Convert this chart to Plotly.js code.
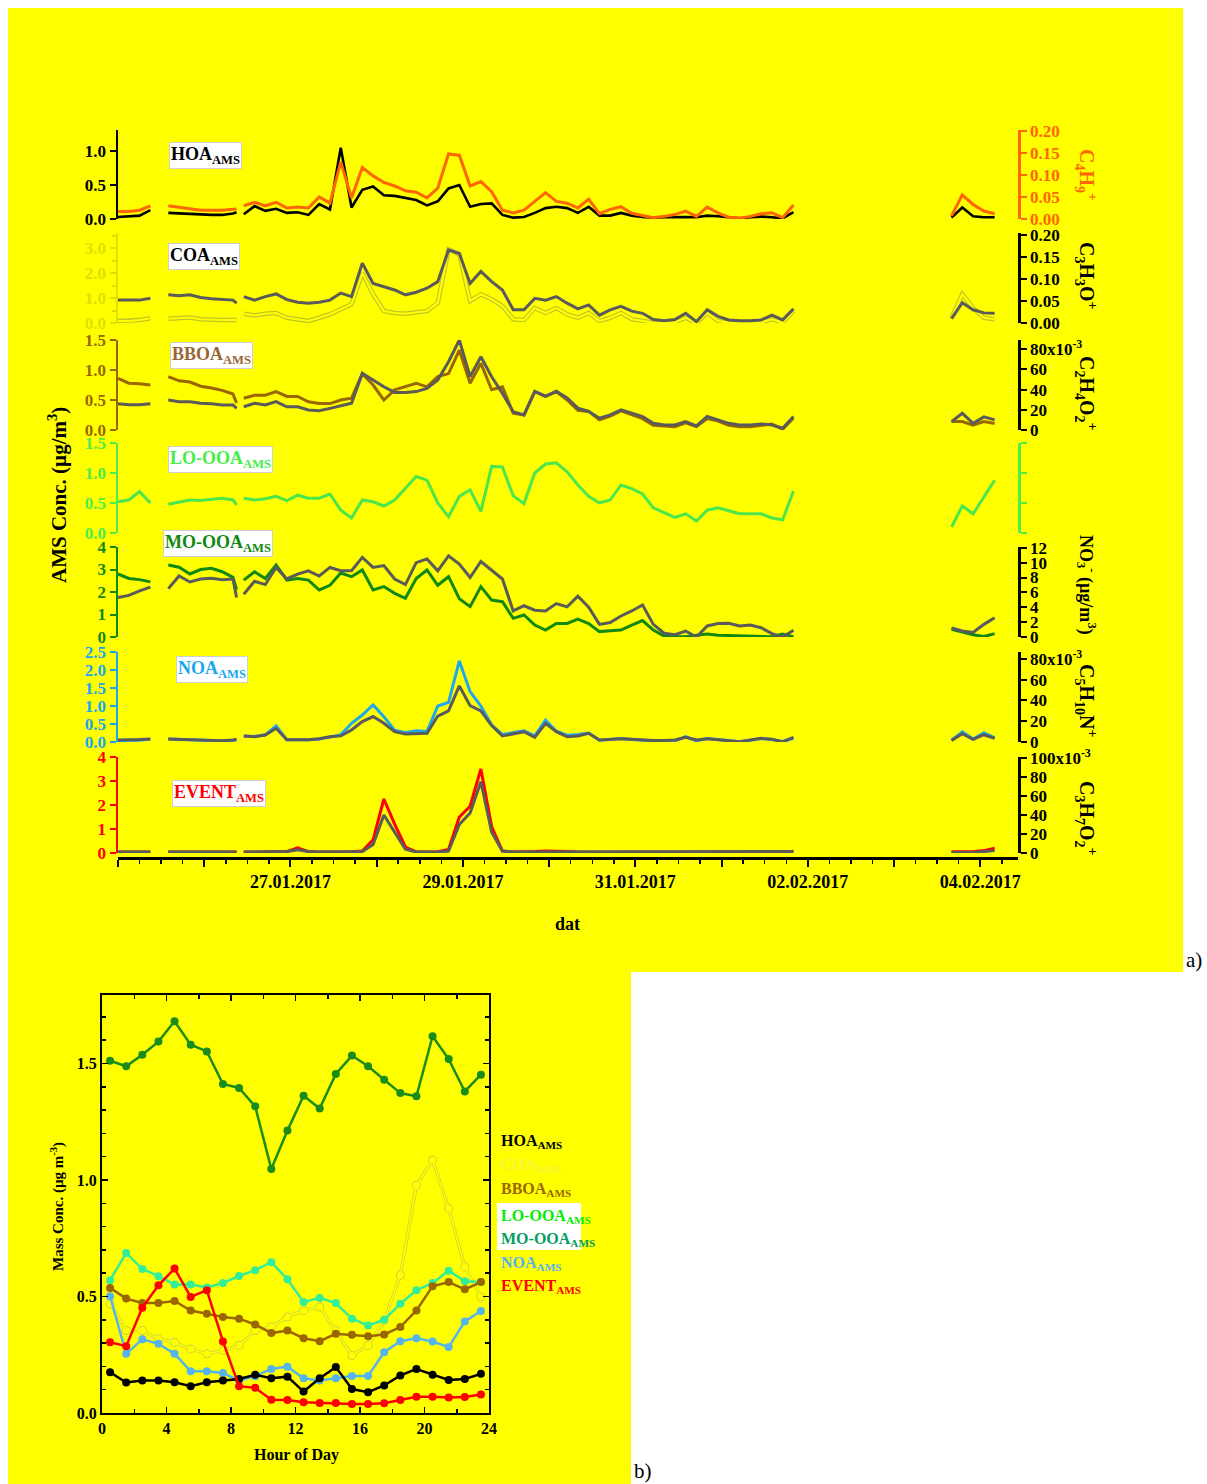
<!DOCTYPE html>
<html>
<head>
<meta charset="utf-8">
<script src="https://cdn.plot.ly/plotly-3.0.1.min.js"></script>
<style>html,body{margin:0;padding:0;background:#fff;}#chart{width:1207px;height:1484px;}</style>
</head>
<body>
<div id="chart"></div>
<script>
// ---------- Panel a) time series: hours since 25.01.2017 00:00 (null rows = data gaps) ----------
const startDate = '2017-01-25T00:00:00Z';
const hours = [0,3,6,9, 11, 14,17,20,23,26,29,32,33, 34,
  35,38,41,44,47,50,53,56,59,62,65,68,71,74,77,80,83,86,89,92,95,98,101,104,107,110,113,116,119,122,125,128,131,134,137,140,143,146,149,152,155,158,161,164,167,170,173,176,179,182,185,188,
  210, 232,235,238,241,244];

const hoa = [0.03,0.04,0.05,0.13, null, 0.09,0.08,0.07,0.06,0.06,0.06,0.08,0.10, null,
  0.07,0.19,0.12,0.15,0.09,0.10,0.06,0.22,0.14,1.05,0.17,0.43,0.48,0.35,0.34,0.31,0.28,0.20,0.26,0.45,0.50,0.18,0.22,0.23,0.06,0.02,0.03,0.09,0.16,0.18,0.16,0.09,0.18,0.05,0.05,0.09,0.05,0.03,0.02,0.025,0.03,0.03,0.025,0.05,0.04,0.02,0.01,0.025,0.035,0.025,0.01,0.10,
  null, 0.02,0.17,0.04,0.025,0.025];
const c4h9 = [0.017,0.017,0.02,0.03, null, 0.030,0.027,0.024,0.020,0.020,0.020,0.022,0.023, null,
  0.030,0.038,0.030,0.038,0.025,0.027,0.025,0.050,0.036,0.130,0.048,0.117,0.098,0.083,0.075,0.064,0.061,0.048,0.070,0.148,0.145,0.075,0.085,0.062,0.020,0.014,0.020,0.040,0.060,0.040,0.036,0.025,0.045,0.012,0.022,0.028,0.013,0.008,0.003,0.006,0.010,0.018,0.006,0.027,0.014,0.004,0.002,0.006,0.012,0.014,0.003,0.032,
  null, 0.007,0.055,0.033,0.018,0.012];
const coa = [0.08,0.08,0.12,0.19, null, 0.17,0.20,0.22,0.15,0.12,0.12,0.13,0.12, null,
  0.37,0.30,0.37,0.40,0.21,0.15,0.08,0.21,0.35,0.55,0.75,2.0,1.15,0.48,0.40,0.37,0.44,0.48,0.80,2.95,2.75,0.88,1.15,0.95,0.68,0.15,0.12,0.60,0.40,0.60,0.35,0.21,0.40,0.08,0.21,0.40,0.15,0.08,0.02,0.0,0.03,0.21,0.0,0.40,0.08,0.02,0.0,0.0,0.03,0.15,0.02,0.48,
  null, 0.20,1.15,0.60,0.21,0.15];
const c3h3o = [0.052,0.052,0.052,0.056, null, 0.064,0.062,0.064,0.058,0.055,0.054,0.052,0.045, null,
  0.060,0.052,0.060,0.066,0.053,0.047,0.045,0.047,0.052,0.068,0.060,0.136,0.090,0.083,0.075,0.064,0.070,0.079,0.094,0.166,0.158,0.090,0.117,0.094,0.075,0.030,0.030,0.056,0.052,0.060,0.045,0.032,0.041,0.018,0.030,0.038,0.027,0.022,0.008,0.005,0.008,0.022,0.003,0.030,0.015,0.007,0.005,0.005,0.007,0.018,0.007,0.032,
  null, 0.010,0.046,0.030,0.023,0.022];
const bboa = [0.86,0.78,0.77,0.75, null, 0.89,0.82,0.80,0.73,0.70,0.66,0.60,0.45, null,
  0.53,0.58,0.58,0.64,0.56,0.56,0.47,0.44,0.44,0.50,0.53,0.94,0.75,0.50,0.67,0.72,0.78,0.72,0.89,0.94,1.33,0.78,1.11,0.67,0.72,0.28,0.25,0.64,0.56,0.64,0.50,0.33,0.31,0.17,0.23,0.32,0.25,0.19,0.08,0.07,0.056,0.12,0.056,0.19,0.15,0.08,0.056,0.056,0.08,0.10,0.011,0.20,
  null, 0.14,0.14,0.08,0.14,0.11];
const c2h4o2_milli = [26,25,25,26, null, 29.6,28,28,26.4,26,24.7,24.7,21.4, null,
  23,26.4,24.7,28,23,23,19.8,19,21.4,23.7,26.4,56,49.4,42.8,37.2,37.2,38,41.2,49.4,67.5,89,52.7,72.4,52.7,36.2,18.1,14.8,38.3,33.3,38.3,31.7,21.7,18.3,11.7,15,20,16.7,13.3,6.6,4.9,4.9,8.3,4,13.3,10,6.6,4.9,4.9,6,4.9,1.7,13.3,
  null, 8.3,16.5,6.6,13,10];
const looa = [0.52,0.55,0.69,0.50, null, 0.48,0.52,0.55,0.54,0.56,0.58,0.55,0.47, null,
  0.58,0.55,0.57,0.61,0.54,0.63,0.58,0.58,0.65,0.38,0.25,0.55,0.52,0.45,0.55,0.75,0.94,0.88,0.50,0.27,0.61,0.72,0.36,1.11,1.10,0.62,0.49,1.00,1.15,1.17,1.02,0.80,0.61,0.50,0.55,0.80,0.74,0.65,0.42,0.34,0.26,0.32,0.20,0.38,0.42,0.37,0.32,0.32,0.32,0.25,0.22,0.70,
  null, 0.10,0.45,0.32,0.60,0.88];
const mooa = [2.8,2.6,2.55,2.45, null, 3.2,3.1,2.8,3.0,3.05,2.9,2.65,2.1, null,
  2.53,2.9,2.6,3.2,2.53,2.6,2.53,2.09,2.3,2.84,2.68,2.98,2.09,2.24,1.94,1.72,2.6,2.98,2.3,2.68,1.7,1.35,2.24,1.64,1.57,0.83,0.98,0.53,0.31,0.60,0.60,0.79,0.60,0.24,0.28,0.31,0.53,0.73,0.31,0.04,0.01,0.01,0.08,0.13,0.08,0.06,0.04,0.04,0.01,0.01,0.13,0.01,
  null, 0.34,0.22,0.10,0.02,0.15];
const no3 = [5.3,5.6,6.2,6.7, null, 6.5,8.2,7.4,7.8,7.9,7.7,7.8,5.3, null,
  5.75,7.5,7.05,9.35,7.8,8.45,8.9,8.2,9.35,8.9,8.9,10.7,9.35,9.6,7.8,7.05,10.0,10.5,8.9,10.9,9.8,8.0,10.15,9.0,7.8,3.5,4.2,3.6,3.5,4.5,4.05,5.5,4.0,1.7,1.94,2.83,3.5,4.3,1.7,0.5,0.3,0.8,0.0,1.48,1.8,1.84,1.48,1.6,1.25,0.45,0.0,0.9,
  null, 1.2,0.8,0.6,1.7,2.6];
const noa = [0.04,0.04,0.05,0.08, null, 0.08,0.07,0.05,0.03,0.02,0.03,0.05,0.06, null,
  0.17,0.15,0.20,0.45,0.06,0.05,0.06,0.08,0.15,0.20,0.52,0.75,1.03,0.70,0.33,0.26,0.31,0.29,1.0,1.1,2.25,1.4,1.0,0.47,0.21,0.25,0.31,0.17,0.61,0.30,0.19,0.21,0.25,0.05,0.07,0.10,0.07,0.05,0.01,0.01,0.03,0.15,0.03,0.10,0.07,0.04,0.01,0.05,0.10,0.07,0.01,0.10,
  null, 0.05,0.28,0.08,0.25,0.12];
const c5h10n_milli = [2,2,2.5,3, null, 2.8,2.5,1.8,1.2,1.0,1.3,2.0,2.5, null,
  5.9,5.1,6.7,13.2,2.2,1.9,2.2,3.2,5.1,5.9,11.6,19.7,24.5,18.1,10,7.7,8.4,8.4,25,30,54,35,30,16,5.8,7.7,9.9,4.5,18,9.9,5.1,5.8,8.4,1.9,2.6,3.2,2.6,1.9,1.5,1.5,1.9,4.5,1.9,3.2,2.6,1.3,0.3,1.9,3.5,2.6,0.3,4.5,
  null, 1.5,8,2.5,7,3.5];
const eventAms = [0.04,0.04,0.04,0.04, null, 0.04,0.04,0.04,0.04,0.04,0.04,0.04,0.04, null,
  0.04,0.04,0.04,0.04,0.06,0.22,0.06,0.04,0.04,0.04,0.05,0.08,0.55,2.25,1.2,0.25,0.05,0.04,0.05,0.15,1.5,1.95,3.5,1.1,0.08,0.04,0.04,0.06,0.08,0.08,0.06,0.04,0.04,0.03,0.03,0.03,0.03,0.03,0.03,0.03,0.03,0.03,0.03,0.03,0.03,0.03,0.03,0.03,0.04,0.04,0.03,0.07,
  null, 0.05,0.05,0.05,0.10,0.20];
const c3h7o2_milli = [1,1,1,1, null, 1,1,1,1,1,1,1,1, null,
  1,1,1,1,1.5,3.5,1.5,1,1,1,1,1.5,9,40,22,4,1,1,1,2,30,42,75,22,2,1,1,1,1,1,1,1,1,0.8,0.8,0.8,0.8,0.8,0.8,0.8,0.8,0.8,0.8,0.8,0.8,0.8,0.8,0.8,0.8,0.8,0.8,1.5,
  null, 0.5,0.5,0.5,1.5,2.5];

const dayTicks = ['2017-01-25','2017-01-26','2017-01-27','2017-01-28','2017-01-29','2017-01-30','2017-01-31','2017-02-01','2017-02-02','2017-02-03','2017-02-04'];
const dayLabels = ['','','27.01.2017','','29.01.2017','','31.01.2017','','02.02.2017','','04.02.2017'];

// ---------- Panel b) diurnal cycles ----------
const hourOfDay = [0.5,1.5,2.5,3.5,4.5,5.5,6.5,7.5,8.5,9.5,10.5,11.5,12.5,13.5,14.5,15.5,16.5,17.5,18.5,19.5,20.5,21.5,22.5,23.5];
const hoaDiurnal = [0.175,0.131,0.139,0.139,0.132,0.115,0.132,0.139,0.146,0.164,0.149,0.156,0.092,0.149,0.197,0.103,0.089,0.118,0.161,0.189,0.164,0.142,0.146,0.168];
const coaDiurnal = [0.469,0.354,0.354,0.318,0.304,0.275,0.254,0.268,0.290,0.354,0.369,0.412,0.440,0.455,0.354,0.247,0.290,0.397,0.591,0.978,1.086,0.878,0.627,0.498];
const bboaDiurnal = [0.537,0.491,0.472,0.472,0.481,0.440,0.426,0.412,0.405,0.380,0.343,0.354,0.321,0.308,0.340,0.336,0.329,0.337,0.369,0.440,0.544,0.562,0.531,0.562];
const looaDiurnal = [0.570,0.687,0.618,0.587,0.551,0.551,0.539,0.558,0.588,0.613,0.647,0.574,0.476,0.494,0.472,0.405,0.376,0.400,0.469,0.527,0.558,0.611,0.565,0.562];
const mooaDiurnal = [1.512,1.488,1.538,1.594,1.681,1.581,1.552,1.412,1.395,1.316,1.047,1.212,1.362,1.307,1.455,1.534,1.488,1.430,1.373,1.359,1.617,1.519,1.380,1.452];
const noaDiurnal = [0.501,0.254,0.316,0.297,0.254,0.179,0.179,0.172,0.139,0.158,0.189,0.199,0.149,0.139,0.149,0.159,0.159,0.261,0.308,0.321,0.307,0.283,0.393,0.438];
const eventDiurnal = [0.304,0.287,0.452,0.548,0.620,0.498,0.527,0.307,0.115,0.108,0.057,0.056,0.046,0.043,0.043,0.039,0.039,0.042,0.056,0.070,0.070,0.067,0.069,0.079];

// ---------- checks ----------
[hoa,c4h9,coa,c3h3o,bboa,c2h4o2_milli,looa,mooa,no3,noa,c5h10n_milli,eventAms,c3h7o2_milli].forEach((a,i)=>{
  if (a.length !== hours.length) throw new Error('series '+i+' length '+a.length+' != '+hours.length);
});

// ---------- build ----------
const t0 = Date.parse(startDate);
const times = hours.map(h => new Date(t0 + h*3600000).toISOString().slice(0,16).replace('T',' '));

const F = 'Liberation Serif, Times New Roman, serif';
const W = 1207, H = 1484;
const px = v => v / W;
const py = v => 1 - v / H;
const dom = (top, bottom) => [1 - bottom / H, 1 - top / H];

const GRAY = '#5a5a5a';
function line(y, axis, color, width) {
  return {x: times, y: y, yaxis: axis, type: 'scatter', mode: 'lines', connectgaps: false,
          line: {color: color, width: width}, hoverinfo: 'skip', showlegend: false};
}

const data = [
  line(hoa, 'y', '#000000', 2.6),
  line(c4h9, 'y2', '#ff6600', 3),
  line(coa, 'y3', '#c4c42a', 4.6),
  line(coa, 'y3', '#ffff00', 2.2),
  line(c3h3o, 'y4', GRAY, 3),
  line(bboa, 'y5', '#996600', 3),
  line(c2h4o2_milli, 'y6', GRAY, 3),
  line(looa, 'y7', '#4ce64c', 3),
  {x:[null], y:[null], yaxis:'y8', type:'scatter', mode:'lines', hoverinfo:'skip', showlegend:false},
  line(mooa, 'y9', '#118811', 3),
  line(no3, 'y10', GRAY, 3),
  line(noa, 'y11', '#1ea8f0', 3),
  line(c5h10n_milli, 'y12', GRAY, 3),
  line(eventAms, 'y13', '#ff0000', 3),
  line(c3h7o2_milli, 'y14', GRAY, 3)
];

function diurnal(y, color, lw, ms) {
  return {x: hourOfDay, y: y, xaxis: 'x2', yaxis: 'y15', type: 'scatter', mode: 'lines+markers',
          line: {color: color, width: lw}, marker: {color: color, size: ms},
          hoverinfo: 'skip', showlegend: false};
}
data.push(
  diurnal(coaDiurnal, '#d0d040', 3.2, 9),
  diurnal(coaDiurnal, '#ffff00', 1.6, 7),
  diurnal(looaDiurnal, '#33ee99', 2.5, 8),
  diurnal(mooaDiurnal, '#1a8c1a', 2.5, 8),
  diurnal(bboaDiurnal, '#996600', 2.5, 8),
  diurnal(noaDiurnal, '#55b4ee', 2.5, 8),
  diurnal(hoaDiurnal, '#000000', 2.5, 8),
  diurnal(eventDiurnal, '#ff0000', 2.5, 8)
);

function yAxis(o) {
  const c = o.color;
  const ax = {
    showline: true, linecolor: c, linewidth: 2.5,
    ticks: 'outside', ticklen: 6, tickwidth: 2, tickcolor: c,
    tickfont: {family: F, size: 17, color: c, weight: 'bold'},
    showgrid: false, zeroline: false, anchor: 'x', fixedrange: true,
    side: o.side || 'left', range: o.range
  };
  delete o.color;
  return Object.assign(ax, o);
}

const layout = {
  width: W, height: H,
  margin: {l: 0, r: 0, t: 0, b: 0},
  paper_bgcolor: '#ffffff', plot_bgcolor: 'rgba(0,0,0,0)',
  showlegend: false,
  font: {family: F, color: '#000'},
  xaxis: {
    domain: [px(118), px(1018)], anchor: 'free', position: 1 - 858 / H,
    type: 'date', range: ['2017-01-25 00:00', '2017-02-04 10:30'],
    tickmode: 'array', tickvals: dayTicks, ticktext: dayLabels,
    ticks: 'outside', ticklen: 7, tickwidth: 2, tickcolor: '#000',
    showline: true, linecolor: '#000', linewidth: 2.5,
    showgrid: false, zeroline: false, fixedrange: true,
    tickfont: {family: F, size: 18, color: '#000', weight: 'bold'},
    minor: {dtick: 6 * 3600000, tick0: '2017-01-25', ticks: 'outside', ticklen: 4, tickwidth: 1.5, tickcolor: '#000', showgrid: false}
  },
  yaxis: yAxis({color: '#000000', domain: dom(130, 219), range: [0, 1.31], dtick: 0.5, tickformat: '.1f'}),
  yaxis2: yAxis({color: '#ff6600', overlaying: 'y', side: 'right', range: [0, 0.2023], dtick: 0.05, tickformat: '.2f'}),
  yaxis3: yAxis({color: '#e0e000', domain: dom(233, 323), range: [0, 3.6], dtick: 1, tickformat: '.1f',
                 minor: {dtick: 0.5, ticks: 'outside', ticklen: 4, tickcolor: '#e0e000'}}),
  yaxis4: yAxis({color: '#000000', overlaying: 'y3', side: 'right', range: [0, 0.2045], dtick: 0.05, tickformat: '.2f'}),
  yaxis5: yAxis({color: '#996600', domain: dom(340, 430), range: [0, 1.5], dtick: 0.5, tickformat: '.1f'}),
  yaxis6: yAxis({color: '#000000', overlaying: 'y5', side: 'right', range: [0, 89],
                 tickmode: 'array', tickvals: [0, 20, 40, 60, 80], ticktext: ['0', '20', '40', '60', '80x10<sup>-3</sup>']}),
  yaxis7: yAxis({color: '#4ded4d', domain: dom(443, 533), range: [0, 1.5], dtick: 0.5, tickformat: '.1f'}),
  yaxis8: yAxis({color: '#4ded4d', overlaying: 'y7', side: 'right', range: [0, 1.5], dtick: 0.5, showticklabels: false}),
  yaxis9: yAxis({color: '#118811', domain: dom(547, 637), range: [0, 4], dtick: 1, tickformat: 'd'}),
  yaxis10: yAxis({color: '#000000', overlaying: 'y9', side: 'right', range: [0, 12.1], dtick: 2, tickformat: 'd'}),
  yaxis11: yAxis({color: '#1aa7ee', domain: dom(652, 742), range: [0, 2.5], dtick: 0.5, tickformat: '.1f'}),
  yaxis12: yAxis({color: '#000000', overlaying: 'y11', side: 'right', range: [0, 86.7],
                  tickmode: 'array', tickvals: [0, 20, 40, 60, 80], ticktext: ['0', '20', '40', '60', '80x10<sup>-3</sup>']}),
  yaxis13: yAxis({color: '#ff0000', domain: dom(757, 853), range: [0, 4], dtick: 1, tickformat: 'd'}),
  yaxis14: yAxis({color: '#000000', overlaying: 'y13', side: 'right', range: [0, 101],
                  tickmode: 'array', tickvals: [0, 20, 40, 60, 80, 100], ticktext: ['0', '20', '40', '60', '80', '100x10<sup>-3</sup>']}),
  xaxis2: {
    domain: [px(102), px(489)], anchor: 'y15', range: [0, 24], dtick: 4, tick0: 0,
    ticks: 'inside', ticklen: 6, tickwidth: 1.5, tickcolor: '#000',
    showline: true, mirror: 'allticks', linecolor: '#000', linewidth: 2,
    showgrid: false, zeroline: false, fixedrange: true,
    tickfont: {family: F, size: 16, color: '#000', weight: 'bold'},
    minor: {dtick: 2, ticks: 'inside', ticklen: 4, tickwidth: 1.5, tickcolor: '#000', showgrid: false}
  },
  yaxis15: {
    domain: dom(995, 1413), anchor: 'x2', range: [0, 1.794], dtick: 0.5, tick0: 0, tickformat: '.1f',
    ticks: 'inside', ticklen: 6, tickwidth: 1.5, tickcolor: '#000',
    showline: true, mirror: 'allticks', linecolor: '#000', linewidth: 2,
    showgrid: false, zeroline: false, fixedrange: true,
    tickfont: {family: F, size: 16, color: '#000', weight: 'bold'},
    minor: {dtick: 0.1, ticks: 'inside', ticklen: 4, tickwidth: 1.5, tickcolor: '#000', showgrid: false}
  },
  shapes: [
    {type: 'rect', xref: 'paper', yref: 'paper', x0: px(8), x1: px(1183), y0: py(972), y1: py(8), fillcolor: '#ffff00', line: {width: 0}, layer: 'below'},
    {type: 'rect', xref: 'paper', yref: 'paper', x0: px(8), x1: px(631), y0: 0, y1: py(972), fillcolor: '#ffff00', line: {width: 0}, layer: 'below'},
    {type: 'rect', xref: 'paper', yref: 'paper', x0: px(497), x1: px(581), y0: py(1250), y1: py(1203), fillcolor: '#ffffff', line: {width: 0}, layer: 'below'}
  ],
  annotations: []
};

function ann(x, y, text, o) {
  layout.annotations.push(Object.assign({
    xref: 'paper', yref: 'paper', x: px(x), y: py(y), text: text, showarrow: false,
    xanchor: 'center', yanchor: 'middle',
    font: {family: F, size: 18, color: '#000'}
  }, o || {}));
}
function box(x, y, text, color) {
  ann(x, y, '<b>' + text + '</b>', {font: {family: F, size: 18, color: color},
      bgcolor: '#ffffff', bordercolor: '#cfcfcf', borderwidth: 1, borderpad: 1});
}
box(205, 156, 'HOA<sub>AMS</sub>', '#000000');
box(204, 257, 'COA<sub>AMS</sub>', '#000000');
box(211, 356, 'BBOA<sub>AMS</sub>', '#996633');
box(220, 460, 'LO-OOA<sub>AMS</sub>', '#44ee44');
box(218, 544, 'MO-OOA<sub>AMS</sub>', '#118811');
box(212, 669, 'NOA<sub>AMS</sub>', '#1aa7ee');
box(219, 794, 'EVENT<sub>AMS</sub>', '#ff0000');

// axis titles panel a)
ann(57, 495, '<b>AMS Conc. (µg/m<sup>3</sup>)</b>', {textangle: -90, font: {family: F, size: 21, color: '#000'}});
ann(1086, 175, '<b>C<sub>4</sub>H<sub>9</sub><sup>+</sup></b>', {textangle: 90, font: {family: F, size: 20, color: '#ff6600'}});
ann(1086, 276, '<b>C<sub>3</sub>H<sub>3</sub>O<sup>+</sup></b>', {textangle: 90, font: {family: F, size: 20, color: '#000'}});
ann(1086, 393, '<b>C<sub>2</sub>H<sub>4</sub>O<sub>2</sub><sup>+</sup></b>', {textangle: 90, font: {family: F, size: 20, color: '#000'}});
ann(1087, 585, '<b>NO<sub>3</sub><sup>-</sup> (µg/m<sup>3</sup>)</b>', {textangle: 90, font: {family: F, size: 18, color: '#000'}});
ann(1086, 700, '<b>C<sub>5</sub>H<sub>10</sub>N<sup>+</sup></b>', {textangle: 90, font: {family: F, size: 20, color: '#000'}});
ann(1086, 818, '<b>C<sub>3</sub>H<sub>7</sub>O<sub>2</sub><sup>+</sup></b>', {textangle: 90, font: {family: F, size: 20, color: '#000'}});
ann(567, 924, '<b>dat</b>', {font: {family: F, size: 18, color: '#000'}});
ann(1194, 960, 'a)', {font: {family: F, size: 21, color: '#000'}});

// panel b) titles + legend
ann(57, 1207, '<b>Mass Conc. (µg m<sup>-3</sup>)</b>', {textangle: -90, font: {family: F, size: 15, color: '#000'}});
ann(296, 1455, '<b>Hour of Day</b>', {font: {family: F, size: 16, color: '#000'}});
ann(643, 1471, 'b)', {font: {family: F, size: 21, color: '#000'}});
const leg = [
  ['HOA<sub>AMS</sub>', '#000000', 1141],
  ['COA<sub>AMS</sub>', '#f4f43a', 1165],
  ['BBOA<sub>AMS</sub>', '#996600', 1189],
  ['LO-OOA<sub>AMS</sub>', '#00ee00', 1216],
  ['MO-OOA<sub>AMS</sub>', '#00a060', 1239],
  ['NOA<sub>AMS</sub>', '#55b4ee', 1263],
  ['EVENT<sub>AMS</sub>', '#ff0000', 1286]
];
leg.forEach(l => ann(499, l[2], '<b>' + l[0] + '</b>', {xanchor: 'left', font: {family: F, size: 16, color: l[1]}}));

Plotly.newPlot('chart', data, layout, {staticPlot: true, displayModeBar: false});
</script>
</body>
</html>
